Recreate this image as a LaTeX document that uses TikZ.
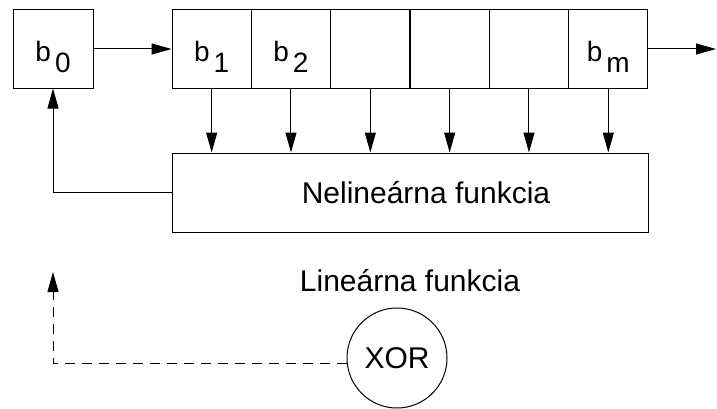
\documentclass[tikz,border=0pt]{standalone}
\usepackage{fontspec}
\setmainfont{Liberation Sans}
\usetikzlibrary{arrows.meta}
\usetikzlibrary{positioning}
\tikzset{arr/.style = {-{Triangle[length=20pt,width=11pt]}}}
\tikzset{cell/.style = {draw, inner sep = 0, minimum width = 79.3, minimum height = 78, text height = 26pt, text depth = 0pt, font = \fontsize{28}{33}\selectfont}}
\tikzset{lbl/.style = {font = \fontsize{30}{36}\selectfont}}
\newcommand{\bsub}[1]{b\kern4pt\raisebox{-11pt}{#1}}

\begin{document}
\begin{tikzpicture}[x=1pt, y=1pt, line width=1pt]
        \useasboundingbox (0,0) rectangle (717,408);
        \node [cell, minimum width=80] (b0) at (53,359) {\bsub{0}};
        \foreach \i/\lab in {1/\bsub{1}, 2/\bsub{2}, 3/{}, 4/{}, 5/{}, 6/\bsub{m}}
            \node [cell] (c\i) at ({172+79.33*(\i-0.5)},359) {\lab};
        \node [draw, lbl, minimum width=476, minimum height=79] (nelin) at (410,215.5) {\hspace{32pt}Nelineárna funkcia};
        \node [lbl] (lin) at (410,127) {Lineárna funkcia};
        \node [draw, circle, lbl, inner sep=0, minimum size=100] (xor) at (397,50) {XOR};
        \coordinate (out) at (716,359);
        \coordinate (lintip) at (53,136);
        \draw [arr] (b0.east) -- (c1.west);
        \draw [arr] (c6.east) -- (out);
        \foreach \i in {1,...,6}
            \draw [arr] (c\i.south) -- (c\i.south |- nelin.north);
        \draw [arr] (nelin.west) -| (b0.south);
        \draw [arr, dash pattern=on 10pt off 7pt] (xor.186) -| (lintip);
    \end{tikzpicture}
\end{document}
